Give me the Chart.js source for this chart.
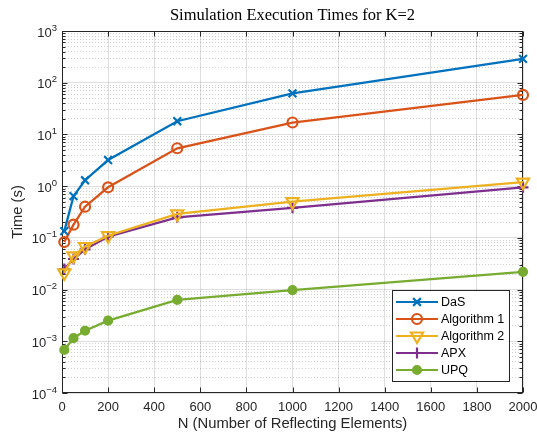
<!DOCTYPE html>
<html>
<head>
  <title>Simulation Execution Times for K=2</title>
  <script src="https://cdn.jsdelivr.net/npm/chart.js"></script>
  <style>
    body { margin: 0; background: #fff; }
  </style>
</head>
<body>
  <canvas id="myChart" width="537" height="437"></canvas>

  <script>
    // values
    const nValues = [10, 50, 100, 200, 500, 1000, 2000];
    const dasTimes = [0.135, 0.64, 1.3, 3.2, 18, 62, 290];
    const alg1Times = [0.083, 0.18, 0.40, 0.95, 5.4, 17, 58];
    const alg2Times = [0.021, 0.045, 0.068, 0.11, 0.29, 0.50, 1.2];
    const apxTimes = [0.025, 0.039, 0.060, 0.105, 0.25, 0.38, 0.95];
    const upqTimes = [0.00068, 0.00115, 0.0016, 0.0025, 0.0063, 0.0098, 0.022];
    const seriesNames = ['DaS', 'Algorithm 1', 'Algorithm 2', 'APX', 'UPQ'];
    const xTickValues = [0, 200, 400, 600, 800, 1000, 1200, 1400, 1600, 1800, 2000];
    const yDecades = [-4, -3, -2, -1, 0, 1, 2, 3];

    const colors = ['#0072BD', '#D95319', '#EDB120', '#7E2F8E', '#77AC30'];
    const axisColor = '#262626';
    const sans = 'Liberation Sans, Arial, sans-serif';

    function isDecade(v) {
      const l = Math.log10(v);
      return Math.abs(l - Math.round(l)) < 1e-9;
    }

    // 1..9 x 10^e for every decade, plus the top one
    const yTickValues = [];
    yDecades.forEach((e, i) => {
      if (i === yDecades.length - 1) {
        yTickValues.push(Math.pow(10, e));
        return;
      }
      for (let m = 1; m <= 9; m++) yTickValues.push(Number((m * Math.pow(10, e)).toPrecision(3)));
    });

    function toPoints(ys) {
      return nValues.map((n, i) => ({ x: n, y: ys[i] }));
    }

    const markers = [
      { style: 'crossRot', radius: 5.5, fill: 'rgba(0,0,0,0)', rotation: 0 },
      { style: 'circle', radius: 5, fill: 'rgba(0,0,0,0)', rotation: 0 },
      { style: 'triangle', radius: 7, fill: 'rgba(0,0,0,0)', rotation: 180 },
      { style: 'cross', radius: 5.5, fill: 'rgba(0,0,0,0)', rotation: 0 },
      { style: 'circle', radius: 4, fill: colors[4], rotation: 0 }
    ];

    const allSeries = [dasTimes, alg1Times, alg2Times, apxTimes, upqTimes];
    const datasets = allSeries.map((ys, i) => ({
      label: seriesNames[i],
      data: toPoints(ys),
      borderColor: colors[i],
      backgroundColor: colors[i],
      borderWidth: 2.3,
      pointStyle: markers[i].style,
      pointRadius: markers[i].radius,
      pointHoverRadius: markers[i].radius,
      pointRotation: markers[i].rotation,
      pointBorderWidth: 2.2,
      pointBorderColor: colors[i],
      pointBackgroundColor: markers[i].fill,
      tension: 0,
      clip: false
    }));

    // box round the axes with inward ticks on all four sides, plus 10^n labels
    const framePlugin = {
      id: 'frame',
      beforeDatasetsDraw(chart) {
        const { ctx, chartArea: a, scales: { x, y } } = chart;
        const L = Math.round(a.left) + 0.5, R = Math.round(a.right) - 0.5;
        const T = Math.round(a.top) + 0.5, B = Math.round(a.bottom) - 0.5;
        ctx.save();
        ctx.strokeStyle = axisColor;
        ctx.lineWidth = 1;
        ctx.beginPath();
        x.ticks.forEach(t => {
          const px = Math.round(x.getPixelForValue(t.value)) + 0.5;
          ctx.moveTo(px, B); ctx.lineTo(px, B - 5);
          ctx.moveTo(px, T); ctx.lineTo(px, T + 5);
        });
        y.ticks.forEach(t => {
          const py = Math.round(y.getPixelForValue(t.value)) + 0.5;
          const len = isDecade(t.value) ? 5 : 3;
          ctx.moveTo(L, py); ctx.lineTo(L + len, py);
          ctx.moveTo(R, py); ctx.lineTo(R - len, py);
        });
        ctx.stroke();
        ctx.strokeRect(L, T, R - L, B - T);

        // decade labels with a raised exponent
        ctx.fillStyle = axisColor;
        ctx.textAlign = 'right';
        ctx.textBaseline = 'middle';
        const xr = a.left - 5;
        yDecades.forEach(e => {
          const py = y.getPixelForValue(Math.pow(10, e));
          const expText = String(e).replace('-', '\u2212');
          ctx.font = '9.5px ' + sans;
          const sw = ctx.measureText(expText).width;
          ctx.fillText(expText, xr, py - 3);
          ctx.font = '13px ' + sans;
          ctx.fillText('10', xr - sw, py + 2);
        });
        ctx.restore();
      }
    };

    function drawMarker(ctx, m, color, cx, cy) {
      const r = m.radius;
      ctx.beginPath();
      if (m.style === 'circle') {
        ctx.arc(cx, cy, r, 0, Math.PI * 2);
        if (m.fill !== 'rgba(0,0,0,0)') { ctx.fillStyle = color; ctx.fill(); }
        ctx.stroke();
      } else if (m.style === 'triangle') {
        for (let k = 0; k < 3; k++) {
          const ang = Math.PI + k * 2 * Math.PI / 3;
          const px = cx + Math.sin(ang) * r, py = cy - Math.cos(ang) * r;
          if (k === 0) ctx.moveTo(px, py); else ctx.lineTo(px, py);
        }
        ctx.closePath();
        ctx.stroke();
      } else if (m.style === 'cross') {
        ctx.moveTo(cx - r, cy); ctx.lineTo(cx + r, cy);
        ctx.moveTo(cx, cy - r); ctx.lineTo(cx, cy + r);
        ctx.stroke();
      } else {
        const d = Math.cos(Math.PI / 4) * r;
        ctx.moveTo(cx - d, cy - d); ctx.lineTo(cx + d, cy + d);
        ctx.moveTo(cx - d, cy + d); ctx.lineTo(cx + d, cy - d);
        ctx.stroke();
      }
    }

    // legend box in the lower right corner of the axes
    const legendPlugin = {
      id: 'boxLegend',
      afterDatasetsDraw(chart) {
        const { ctx, chartArea: a } = chart;
        const w = 117, h = 91;
        const left = Math.round(a.right) - 14 - w, top = Math.round(a.bottom) - 12 - h;
        ctx.save();
        ctx.fillStyle = '#fff';
        ctx.fillRect(left, top, w, h);
        ctx.strokeStyle = axisColor;
        ctx.lineWidth = 1;
        ctx.strokeRect(left + 0.5, top + 0.5, w, h);
        ctx.font = '12.5px ' + sans;
        ctx.textBaseline = 'middle';
        seriesNames.forEach((name, i) => {
          const cy = top + 12 + i * 17;
          ctx.strokeStyle = colors[i];
          ctx.lineWidth = 2.2;
          ctx.beginPath();
          ctx.moveTo(left + 4, cy); ctx.lineTo(left + 46, cy);
          ctx.stroke();
          drawMarker(ctx, markers[i], colors[i], left + 25, cy);
          ctx.fillStyle = '#000';
          ctx.fillText(name, left + 49, cy + 0.5);
        });
        ctx.restore();
      }
    };

    const ctx = document.getElementById('myChart').getContext('2d');
    const chart = new Chart(ctx, {
      type: 'line',
      data: { datasets: datasets },
      plugins: [framePlugin, legendPlugin],
      options: {
        responsive: false,
        animation: false,
        events: [],
        layout: { padding: { left: 0, right: 14, top: 0, bottom: 0 } },
        plugins: {
          legend: { display: false },
          tooltip: { enabled: false },
          title: {
            display: true,
            fullSize: false,
            text: 'Simulation Execution Times for K=2',
            color: '#000',
            font: { family: 'Liberation Serif, DejaVu Serif, serif', size: 16.5, weight: 'normal' },
            padding: { top: 6, bottom: 5.2 }
          }
        },
        scales: {
          x: {
            type: 'linear',
            min: 0,
            max: 2000,
            afterBuildTicks(scale) {
              scale.ticks = xTickValues.map(v => ({ value: v }));
            },
            afterFit(scale) {
              scale.height = 44;
              scale.paddingLeft = 0;
              scale.paddingRight = 0;
            },
            ticks: {
              color: axisColor,
              font: { family: sans, size: 13 },
              padding: 7,
              maxRotation: 0,
              autoSkip: false,
              callback: value => String(value)
            },
            grid: { color: 'rgba(38,38,38,0.15)', lineWidth: 1, drawTicks: false },
            border: { display: false },
            title: {
              display: true,
              text: 'N (Number of Reflecting Elements)',
              color: axisColor,
              font: { family: sans, size: 14.8 },
              padding: { top: 0, bottom: 4 }
            }
          },
          y: {
            type: 'logarithmic',
            min: 1e-4,
            max: 1e3,
            afterBuildTicks(scale) {
              scale.ticks = yTickValues.map(v => ({ value: v }));
            },
            afterFit(scale) {
              scale.width = 62;
              scale.paddingTop = 0;
              scale.paddingBottom = 0;
            },
            ticks: {
              autoSkip: false,
              callback: () => ''
            },
            grid: {
              drawTicks: false,
              lineWidth: 1,
              color: c => (c.tick && isDecade(c.tick.value)) ? 'rgba(38,38,38,0.15)' : 'rgba(38,38,38,0.22)'
            },
            border: {
              display: false,
              dash: c => (c.tick && isDecade(c.tick.value)) ? [] : [1, 2]
            },
            title: {
              display: true,
              text: 'Time (s)',
              color: axisColor,
              font: { family: sans, size: 14.8 },
              padding: { top: 9, bottom: 0 }
            }
          }
        }
      }
    });
  </script>
</body>
</html>
